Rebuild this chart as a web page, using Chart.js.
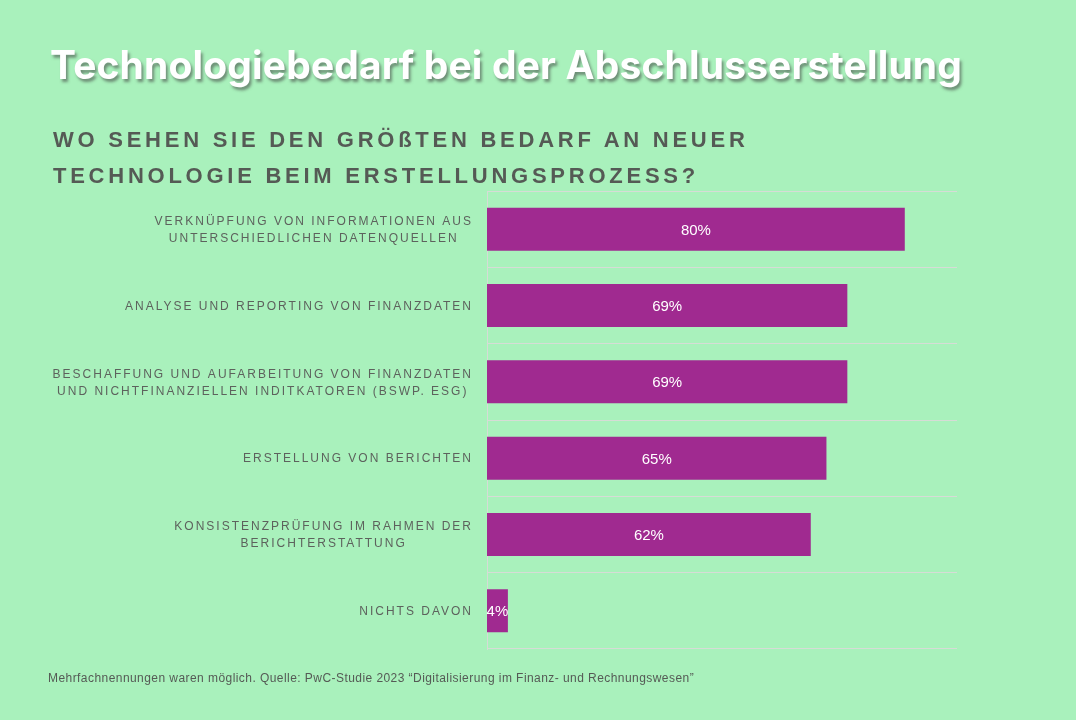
<!DOCTYPE html>
<html>
<head>
<meta charset="utf-8">
<script src="https://cdn.jsdelivr.net/npm/chart.js@4.4.1/dist/chart.umd.min.js"></script>
<style>
  html, body { margin: 0; padding: 0; background: #a9f1bc; }
  #wrap { position: relative; width: 1076px; height: 720px; overflow: hidden; background: #a9f1bc; }
  #chart { position: absolute; left: 0; top: 0; }
  #title { position: absolute; left: 50px; top: 45px; margin: 0; font-family: Inter, "Liberation Sans", Arial, sans-serif; font-weight: bold; font-size: 39px; line-height: 39px; color: #ffffff; text-shadow: 2px 3px 3px rgba(60,60,60,0.55); white-space: nowrap; letter-spacing: 0.15px; }
  #subtitle { position: absolute; left: 53px; top: 122px; margin: 0; font-family: "Liberation Sans", Arial, sans-serif; font-weight: bold; font-size: 22px; line-height: 36px; color: #555a55; letter-spacing: 3.75px; white-space: nowrap; }
  #note { position: absolute; left: 48px; top: 671px; margin: 0; font-family: "Liberation Sans", Arial, sans-serif; font-size: 12px; color: #555a55; letter-spacing: 0.44px; white-space: nowrap; }
</style>
</head>
<body>
<div id="wrap">
  <canvas id="chart" width="1076" height="720"></canvas>
  <h1 id="title">Technologiebedarf bei der Abschlusserstellung</h1>
  <div id="subtitle">WO SEHEN SIE DEN GRÖßTEN BEDARF AN NEUER<br>TECHNOLOGIE BEIM ERSTELLUNGSPROZESS?</div>
  <div id="note">Mehrfachnennungen waren möglich. Quelle: PwC-Studie 2023 “Digitalisierung im Finanz- und Rechnungswesen”</div>
</div>
<script>
const categories = [
  ["VERKNÜPFUNG VON INFORMATIONEN AUS", "UNTERSCHIEDLICHEN DATENQUELLEN"],
  ["ANALYSE UND REPORTING VON FINANZDATEN"],
  ["BESCHAFFUNG UND AUFARBEITUNG VON FINANZDATEN", "UND NICHTFINANZIELLEN INDITKATOREN (BSWP. ESG)"],
  ["ERSTELLUNG VON BERICHTEN"],
  ["KONSISTENZPRÜFUNG IM RAHMEN DER", "BERICHTERSTATTUNG"],
  ["NICHTS DAVON"]
];
const values = [80, 69, 69, 65, 62, 4];
const valueLabels = ["80%", "69%", "69%", "65%", "62%", "4%"];

const BAR_COLOR = "#a02a90";
const GRID_COLOR = "#d6dcd6";
const LABEL_COLOR = "#5d625d";

const categoryLabelPlugin = {
  id: "categoryLabels",
  afterDraw(chart) {
    const ctx = chart.ctx;
    const yScale = chart.scales.y;
    const rightEdge = chart.chartArea.left - 14;
    ctx.save();
    ctx.font = "12px 'Liberation Sans', Arial, sans-serif";
    ctx.fillStyle = LABEL_COLOR;
    ctx.textBaseline = "middle";
    ctx.textAlign = "center";
    try { ctx.letterSpacing = "2px"; } catch (e) {}
    const lineH = 17;
    chart.data.labels.forEach((lines, i) => {
      const yc = yScale.getPixelForValue(i) + 1;
      let maxW = 0;
      lines.forEach(l => { maxW = Math.max(maxW, ctx.measureText(l).width); });
      const cx = rightEdge - maxW / 2;
      const y0 = yc - (lines.length - 1) * lineH / 2;
      lines.forEach((l, j) => ctx.fillText(l, cx, y0 + j * lineH));
    });
    ctx.restore();
  }
};

const valueLabelPlugin = {
  id: "valueLabels",
  afterDatasetsDraw(chart) {
    const ctx = chart.ctx;
    const meta = chart.getDatasetMeta(0);
    ctx.save();
    try { ctx.letterSpacing = "0px"; } catch (e) {}
    ctx.font = "15px 'Liberation Sans', Arial, sans-serif";
    ctx.fillStyle = "#ffffff";
    ctx.textAlign = "center";
    ctx.textBaseline = "middle";
    meta.data.forEach((bar, i) => {
      const x = (bar.x + bar.base) / 2;
      ctx.fillText(valueLabels[i], x, bar.y + 1.5);
    });
    ctx.restore();
  }
};

new Chart(document.getElementById("chart"), {
  type: "bar",
  data: {
    labels: categories,
    datasets: [{
      data: values,
      backgroundColor: BAR_COLOR,
      borderWidth: 0,
      barPercentage: 0.9,
      categoryPercentage: 0.625
    }]
  },
  options: {
    indexAxis: "y",
    responsive: false,
    animation: false,
    devicePixelRatio: 1,
    layout: { padding: { left: 487, right: 119, top: 191, bottom: 71 } },
    plugins: { legend: { display: false }, tooltip: { enabled: false }, title: { display: false } },
    scales: {
      x: {
        display: false,
        min: 0,
        max: 90
      },
      y: {
        offset: true,
        ticks: { display: false },
        grid: { display: true, color: GRID_COLOR, lineWidth: 1, drawTicks: false },
        border: { display: true, color: GRID_COLOR, width: 1 }
      }
    }
  },
  plugins: [valueLabelPlugin, categoryLabelPlugin]
});
</script>
</body>
</html>
